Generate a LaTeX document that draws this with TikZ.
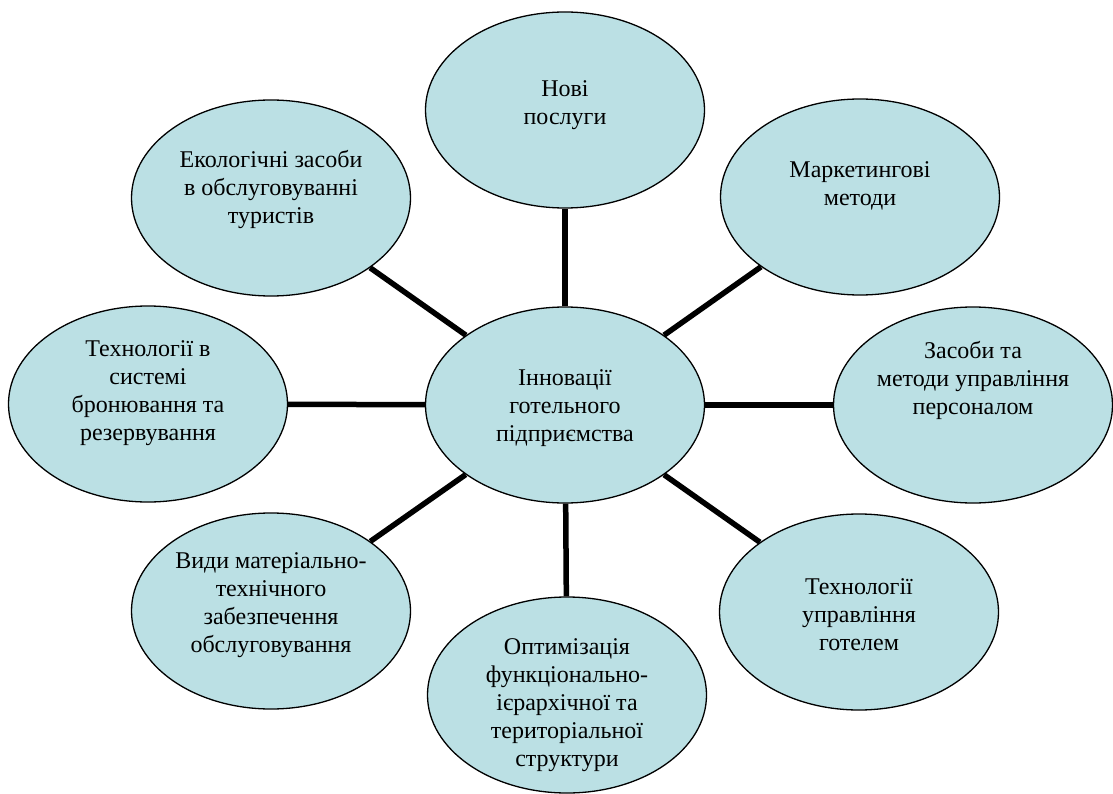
\documentclass[tikz,border=0pt]{standalone}
\usepackage{fontspec}
\setmainfont{Liberation Serif}
\usetikzlibrary{shapes.geometric}
\definecolor{ovalfill}{RGB}{187,224,228}
\tikzset{
  oval/.style={ellipse,draw,fill=ovalfill,line width=1.3pt,
    minimum width=279pt,minimum height=196pt,inner sep=0pt},
  ovaltext/.style={align=center,inner sep=0pt,
    font=\fontsize{24}{28}\selectfont},
  link/.style={line width=5.5pt}
}
\begin{document}
\begin{tikzpicture}[x=1pt,y=-1pt]
        \useasboundingbox (0,0) rectangle (1113,794);
        % ovals
        \node[oval] (centre) at (565,405) {};
        \node[oval] (top) at (565,110) {};
        \node[oval] (topleft) at (271,198) {};
        \node[oval] (topright) at (860,197) {};
        \node[oval] (left) at (148,404) {};
        \node[oval] (right) at (973,405) {};
        \node[oval] (botleft) at (271,611) {};
        \node[oval] (botright) at (859,612) {};
        \node[oval] (bottom) at (567,695) {};
        \foreach \n in {top,topleft,topright,left,right,botleft,botright,bottom}{
            \draw[link] (centre) -- (\n);
        }
        % texts
        \node[ovaltext] (t-centre) at (565,408) {Інновації\\готельного\\підприємства};
        \node[ovaltext] (t-top) at (565,105) {Нові\\послуги};
        \node[ovaltext] (t-topleft) at (271,190) {Екологічні засоби\\в обслуговуванні\\туристів};
        \node[ovaltext] (t-topright) at (860,186) {Маркетингові\\методи};
        \node[ovaltext] (t-left) at (148,393) {Технології в\\системі\\бронювання та\\резервування};
        \node[ovaltext] (t-right) at (973,380) {Засоби та\\методи управління\\персоналом};
        \node[ovaltext] (t-botleft) at (271,605) {Види матеріально-\\технічного\\забезпечення\\обслуговування};
        \node[ovaltext] (t-botright) at (859,615) {Технології\\управління\\готелем};
        \node[ovaltext] (t-bottom) at (567,705) {Оптимізація\\функціонально-\\ієрархічної та\\територіальної\\структури};
\end{tikzpicture}
\end{document}
